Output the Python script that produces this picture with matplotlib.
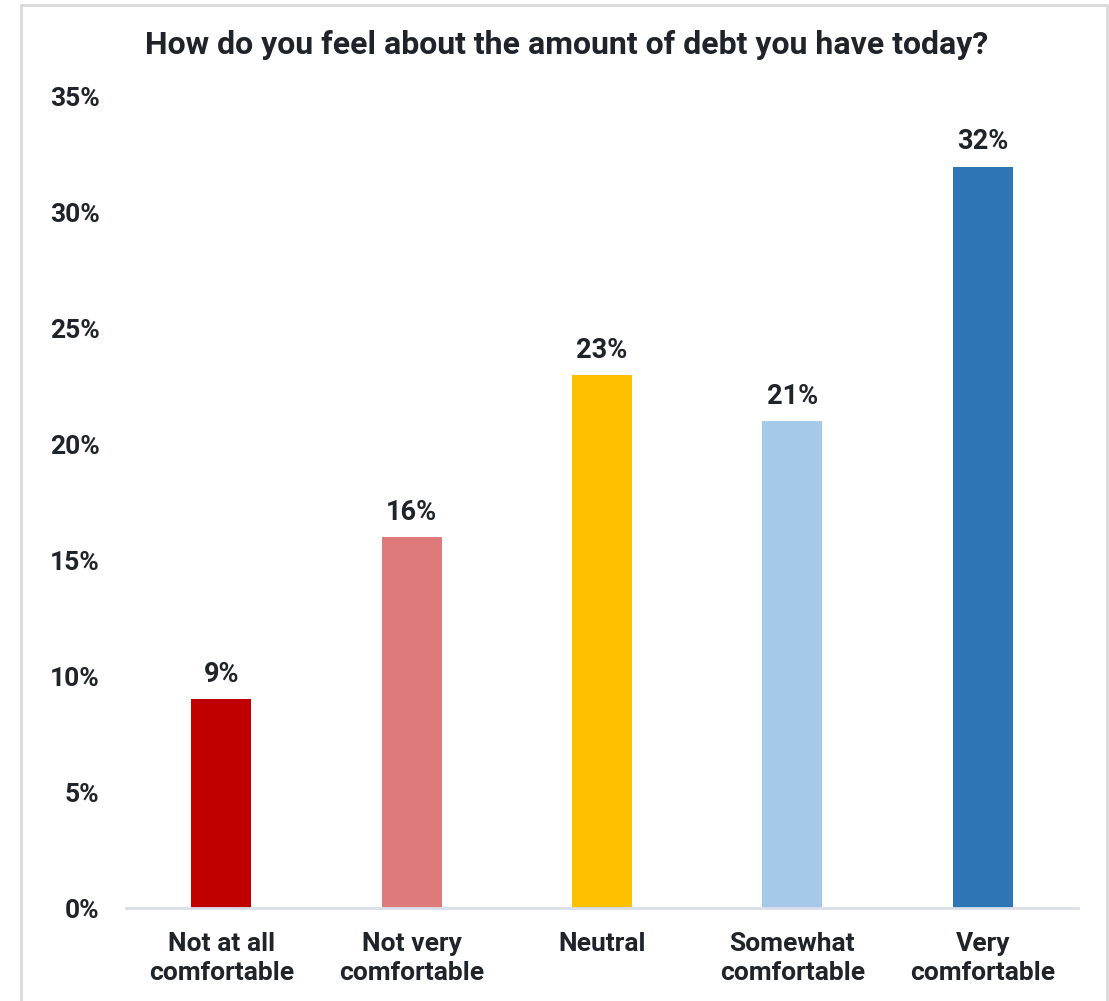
import matplotlib.pyplot as plt
from matplotlib.patches import Rectangle

# данные опроса
categories = ['Not at all\ncomfortable', 'Not very\ncomfortable', 'Neutral',
              'Somewhat\ncomfortable', 'Very\ncomfortable']
values = [9, 16, 23, 21, 32]
colors = ['#C00000', '#DF7A7A', '#FFC000', '#A6C8E9', '#2E75B6']
y_ticks = [0, 5, 10, 15, 20, 25, 30, 35]

TEXT_COLOR = '#1F242B'

plt.rcParams['font.family'] = ['Roboto', 'DejaVu Sans']
plt.rcParams['font.weight'] = 'bold'

fig = plt.figure(figsize=(11.09, 10.01), dpi=100)
ax = fig.add_axes([126 / 1109, 93 / 1001, 952 / 1109, 811 / 1001])

x = range(len(categories))
ax.bar(x, values, width=0.315, color=colors)

# подписи значений над столбцами
for i, v in zip(x, values):
    ax.annotate(f'{v}%', (i, v), xytext=(0, 8), textcoords='offset points',
                ha='center', va='bottom', fontsize=19.5, fontweight='bold', color=TEXT_COLOR)

ax.set_xlim(-0.5, len(categories) - 0.5)
ax.set_ylim(0, 35)
ax.set_yticks(y_ticks)
ax.set_yticklabels([f'{t}%' for t in y_ticks])
ax.set_xticks(list(x))
ax.set_xticklabels(categories, linespacing=1.3)
ax.tick_params(axis='y', length=0, pad=19, labelsize=19, labelcolor=TEXT_COLOR)
ax.tick_params(axis='x', length=0, pad=17, labelsize=19, labelcolor=TEXT_COLOR)

for side in ['left', 'right', 'top']:
    ax.spines[side].set_visible(False)
ax.spines['bottom'].set_color('#D9DEE7')
ax.spines['bottom'].set_linewidth(2)

fig.text(0.511, 0.955, 'How do you feel about the amount of debt you have today?',
         ha='center', va='center', fontsize=23, fontweight='bold', color=TEXT_COLOR)

# рамка вокруг диаграммы (низ уходит за край)
fig.patches.append(Rectangle((21 / 1109, -0.05), 1086 / 1109, 1.05 - 5 / 1001,
                             transform=fig.transFigure, fill=False,
                             edgecolor='#D9D9D9', linewidth=2))

fig.savefig('out.png', dpi=100)
